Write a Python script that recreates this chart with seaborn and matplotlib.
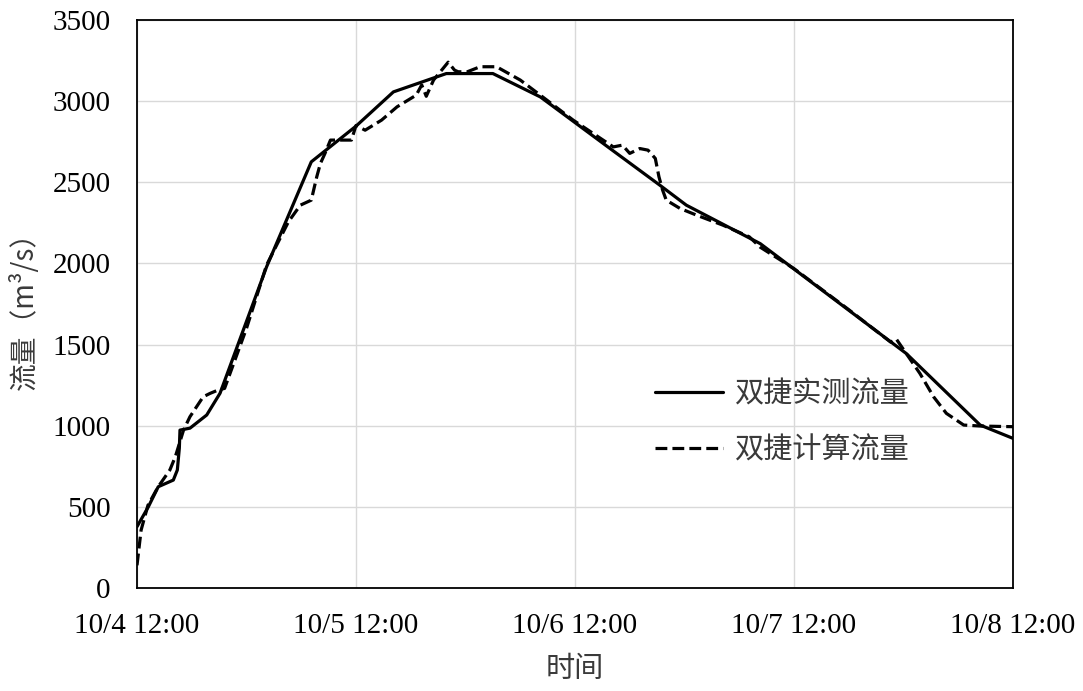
import numpy as np
import pandas as pd
import matplotlib
matplotlib.use('Agg')
import matplotlib.pyplot as plt
from matplotlib.ticker import MultipleLocator, FixedLocator
import seaborn as sns

# hours since 10/4 12:00
obs_hours = [0, 1.24, 2.33, 3.98, 4.42, 4.64, 4.71, 5.81, 7.64, 9.1, 14.2, 19.1, 24.0,
             28.1, 33.9, 39.0, 44.2, 51.6, 57.3, 60.2, 68.3, 84.3, 92.4, 96.0]
obs_flow = [378, 500, 624, 665, 727, 862, 973, 985, 1066, 1200, 1979, 2626, 2846,
            3057, 3170, 3170, 3026, 2718, 2482, 2359, 2122, 1445, 1004, 922]

calc_hours = [0, 0.45, 1.2, 2.3, 3.6, 4.2, 5.1, 5.8, 7.25, 8.0, 8.9, 9.6, 12.0, 14.2,
              16.6, 17.9, 19.1, 19.7, 20.1, 20.6, 21.2, 23.5, 24.0, 25.0, 26.8, 28.5,
              30.6, 31.2, 31.7, 32.5, 34.1, 34.8, 35.2, 36.2, 37.6, 39.4, 42.0, 44.9,
              47.8, 52.2, 53.2, 54.0, 55.1, 56.0, 56.8, 57.2, 57.6, 58.0, 59.5, 61.3,
              64.2, 67.1, 68.3, 72.0, 78.0, 82.6, 83.2, 84.3, 85.8, 87.3, 88.7, 90.6,
              92.4, 96.0]
calc_flow = [140, 357, 510, 622, 727, 809, 973, 1055, 1178, 1199, 1220, 1230, 1600, 1990,
             2257, 2359, 2390, 2534, 2616, 2678, 2760, 2760, 2850, 2821, 2883, 2965,
             3037, 3100, 3030, 3130, 3240, 3191, 3181, 3181, 3212, 3212, 3130, 3007,
             2883, 2718, 2729, 2678, 2708, 2698, 2647, 2534, 2452, 2390, 2339, 2298,
             2236, 2164, 2100, 1968, 1715, 1515, 1535, 1445, 1322, 1178, 1076, 1004,
             998, 994]

day_ticks = [0, 24, 48, 72, 96]
day_labels = ['10/4 12:00', '10/5 12:00', '10/6 12:00', '10/7 12:00', '10/8 12:00']

sns.set_theme(style='white')
plt.rcParams['font.family'] = ['Liberation Serif', 'Noto Sans CJK SC']
cjk = ['Noto Sans CJK SC', 'DejaVu Sans']
txt_color = '#3a3a3a'

fig = plt.figure(figsize=(10.83, 6.91), dpi=100)
ax = fig.add_axes([137 / 1083, 1 - 588 / 691, 876 / 1083, 568 / 691])

sns.lineplot(x=obs_hours, y=obs_flow, ax=ax, color='black', linewidth=2.3,
             label='双捷实测流量', sort=False)
sns.lineplot(x=calc_hours, y=calc_flow, ax=ax, color='black', linewidth=2.3,
             linestyle='--', dashes=(3.2, 1.4), label='双捷计算流量', sort=False)

ax.set_xlim(0, 96)
ax.set_ylim(0, 3500)
ax.xaxis.set_major_locator(FixedLocator(day_ticks))
ax.xaxis.set_minor_locator(MultipleLocator(4.8))
ax.set_xticklabels(day_labels)
ax.yaxis.set_major_locator(MultipleLocator(500))
ax.yaxis.set_minor_locator(MultipleLocator(100))

ax.grid(True, which='major', color='#d9d9d9', linewidth=1)
ax.tick_params(which='both', direction='in', length=6, width=1.2, color='black')
ax.tick_params(axis='both', which='major', labelsize=21, labelcolor='black')
ax.tick_params(axis='x', which='major', pad=18)
ax.tick_params(axis='y', which='major', pad=19)
for s in ax.spines.values():
    s.set_color('black')
    s.set_linewidth(1.3)

ax.set_xlabel('时间', fontsize=21, family=cjk, color=txt_color, labelpad=11)
ax.set_ylabel('流量（m³/s）', fontsize=20, family=cjk, color=txt_color, labelpad=9)

leg = ax.legend(loc='upper left', bbox_to_anchor=(0.5913, 0.367), frameon=False,
                borderpad=0, borderaxespad=0, handlelength=2.33, handletextpad=0.41,
                labelspacing=0.88, prop={'family': cjk, 'size': 21})
for t in leg.get_texts():
    t.set_color(txt_color)

fig.savefig('out.png', dpi=100)
